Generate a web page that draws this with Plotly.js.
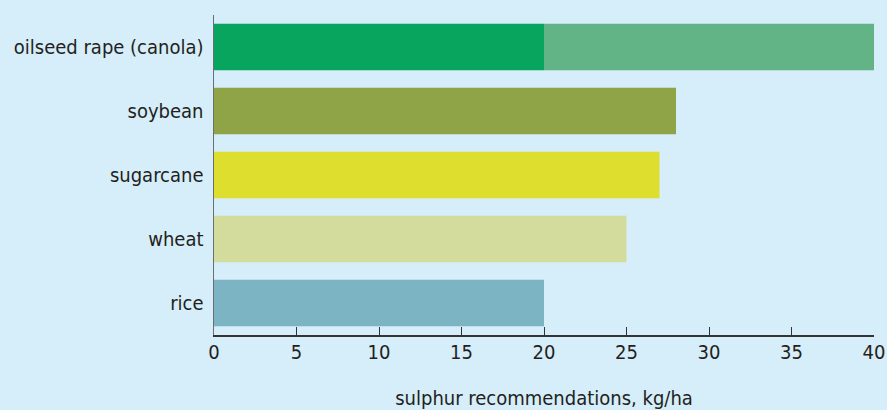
<!DOCTYPE html>
<html>
<head>
<meta charset="utf-8">
<script src="https://cdn.plot.ly/plotly-3.0.1.min.js"></script>
<style>
  html, body { margin: 0; padding: 0; background: #d6edfa; }
  #chart { width: 887px; height: 410px; }
</style>
</head>
<body>
<div id="chart"></div>
<script>
// Sulphur recommendations by crop (kg/ha)
const crops = ['oilseed rape (canola)', 'soybean', 'sugarcane', 'wheat', 'rice'];
const lowRecommendation = [20, 28, 27, 25, 20];
const highRecommendation = [40, 28, 27, 25, 20];
const lowColors = ['#08a55f', '#8fa447', '#dede2e', '#d3dc9c', '#7db4c3'];
const rangeColor = '#62b486';
const xTicks = [0, 5, 10, 15, 20, 25, 30, 35, 40];

const rangeExtra = highRecommendation.map((h, i) => h - lowRecommendation[i]);

const baseTrace = {
  type: 'bar',
  orientation: 'h',
  y: crops,
  x: lowRecommendation,
  marker: { color: lowColors, line: { width: 0 } },
  hoverinfo: 'x+y'
};

const rangeTrace = {
  type: 'bar',
  orientation: 'h',
  y: crops,
  x: rangeExtra,
  base: lowRecommendation,
  marker: { color: rangeColor, line: { width: 0 } },
  hoverinfo: 'x+y'
};

const font = { family: '"Liberation Sans Narrow", "DejaVu Sans Condensed", sans-serif', size: 20, color: '#231f20' };

const layout = {
  width: 887,
  height: 410,
  paper_bgcolor: '#d6edfa',
  plot_bgcolor: '#d6edfa',
  margin: { l: 214, r: 13, t: 15, b: 75 },
  showlegend: false,
  barmode: 'overlay',
  bargap: 0.27,
  font: font,
  xaxis: {
    range: [0, 40],
    tickvals: xTicks,
    ticktext: xTicks.map(String),
    ticks: 'inside',
    ticklen: 8,
    tickwidth: 1,
    tickcolor: '#333333',
    showline: true,
    linecolor: '#333333',
    linewidth: 1.5,
    showgrid: false,
    zeroline: false,
    tickfont: font,
    ticklabelstandoff: -2,
    title: { text: 'sulphur recommendations, kg/ha', font: font, standoff: 28 },
    automargin: false
  },
  yaxis: {
    type: 'category',
    autorange: 'reversed',
    showline: true,
    linecolor: '#6d6e71',
    linewidth: 1.5,
    ticks: '',
    showgrid: false,
    zeroline: false,
    tickfont: font,
    ticklabelstandoff: 5,
    automargin: false
  }
};

Plotly.newPlot('chart', [baseTrace, rangeTrace], layout, { displayModeBar: false, staticPlot: true });
</script>
</body>
</html>
